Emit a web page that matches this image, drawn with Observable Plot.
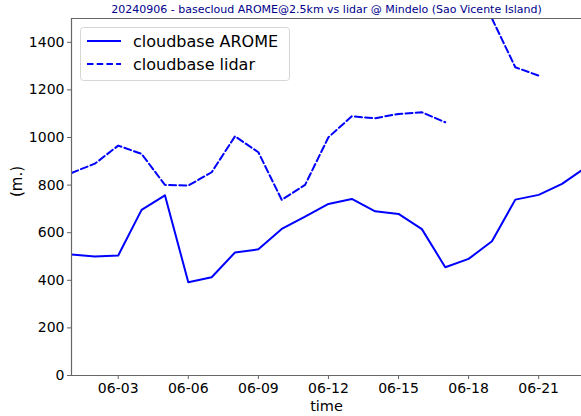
<!DOCTYPE html>
<html>
<head>
<meta charset="utf-8">
<script src="https://cdn.jsdelivr.net/npm/d3@7"></script>
<script src="https://cdn.jsdelivr.net/npm/@observablehq/plot@0.6"></script>
<style>
  html, body { margin: 0; padding: 0; background: white; }
</style>
</head>
<body>
<div id="chart"></div>
<script>
const title = "20240906 - basecloud AROME@2.5km vs lidar @ Mindelo (Sao Vicente Island)";
const days = [1,2,3,4,5,6,7,8,9,10,11,12,13,14,15,16,17,18,19,20,21,22,23];
const arome = [508,500,504,696,757,392,413,517,530,616,668,721,742,690,679,615,455,490,564,739,759,805,873];
const lidar = [851,890,966,931,801,798,854,1005,938,738,801,1001,1089,1081,1099,1106,1064,null,1500,1295,1260,null,null];
const xTickDays = [3,6,9,12,15,18,21];
const yTicks = [0,200,400,600,800,1000,1200,1400];
const seriesNames = ["cloudbase AROME", "cloudbase lidar"];

const day = d => new Date(Date.UTC(2024, 5, d));
const rows = days.map((d, i) => ({date: day(d), arome: arome[i], lidar: lidar[i]}));
const xDomain = [day(1), new Date(Date.UTC(2024, 5, 22, 20))];
const blue = "#0000ff";
const spine = "#666";

const chart = Plot.plot({
  width: 581,
  height: 416,
  marginLeft: 71,
  marginRight: 0,
  marginTop: 18,
  marginBottom: 41,
  style: {fontFamily: "DejaVu Sans, sans-serif", fontSize: "14px", background: "white", color: "#000", overflow: "visible"},
  x: {type: "utc", domain: xDomain},
  y: {domain: [0, 1500]},
  marks: [
    Plot.axisX({ticks: xTickDays.map(day), tickFormat: d3.utcFormat("%m-%d"), tickSize: 4, tickPadding: 4, label: null, stroke: spine, fill: "#000", fontSize: 14}),
    Plot.axisY({ticks: yTicks, tickFormat: d3.format("d"), tickSize: 4, tickPadding: 3, label: null, stroke: spine, fill: "#000", fontSize: 14}),
    Plot.line(rows, {x: "date", y: "arome", stroke: blue, strokeWidth: 2, clip: true}),
    Plot.line(rows, {x: "date", y: "lidar", stroke: blue, strokeWidth: 2, strokeDasharray: "7,3.2", clip: true}),
    Plot.ruleX([xDomain[0]], {stroke: spine, strokeWidth: 1.2}),
    Plot.ruleY([0, 1500], {stroke: spine, strokeWidth: 1.2}),
    Plot.text([title], {frameAnchor: "top", dy: -9, lineAnchor: "middle", fontSize: 11, fill: "#00008b"}),
    Plot.text(["time"], {frameAnchor: "bottom", dy: 25, lineAnchor: "top", fontSize: 14.5, fill: "#000"}),
    Plot.text(["(m.)"], {frameAnchor: "left", dx: -54, rotate: -90, lineAnchor: "middle", fontSize: 15, fill: "#000"})
  ]
});

document.getElementById("chart").appendChild(chart);

// legend
const svg = d3.select(chart.tagName.toLowerCase() === "svg" ? chart : chart.querySelector("svg"));
const lg = svg.append("g").attr("font-family", "DejaVu Sans, sans-serif").attr("font-size", 16).attr("text-anchor", "start");
lg.append("rect").attr("x", 80.5).attr("y", 27.5).attr("width", 209).attr("height", 53).attr("rx", 3)
  .attr("fill", "white").attr("fill-opacity", 0.85).attr("stroke", "#d6d6d6");
seriesNames.forEach((name, i) => {
  const y = 41 + i * 23;
  lg.append("line").attr("x1", 87).attr("x2", 121).attr("y1", y).attr("y2", y)
    .attr("stroke", blue).attr("stroke-width", 2).attr("stroke-dasharray", i === 1 ? "6.5,3.2" : null);
  lg.append("text").attr("x", 133).attr("y", y).attr("dy", "0.35em").attr("text-anchor", "start").attr("fill", "#000").text(name);
});
</script>
</body>
</html>
